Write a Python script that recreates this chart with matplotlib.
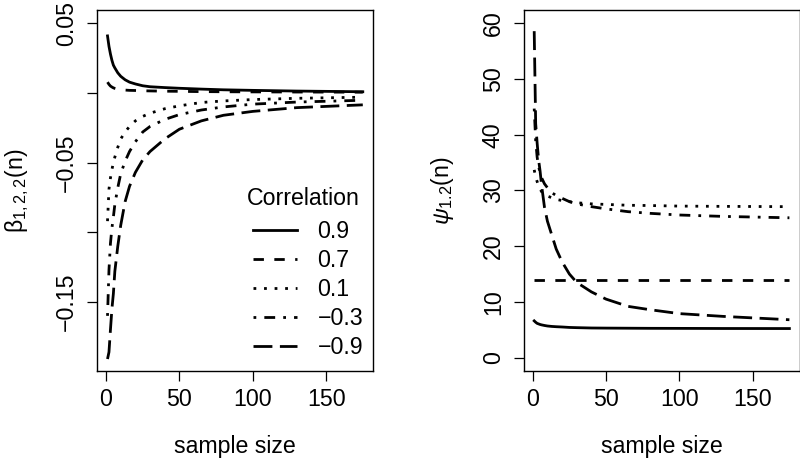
import matplotlib
matplotlib.use("Agg")
import matplotlib.pyplot as plt

plt.rcParams["font.family"] = ["Liberation Sans", "DejaVu Sans"]
plt.rcParams["mathtext.fontset"] = "custom"
plt.rcParams["mathtext.rm"] = "Liberation Sans"
plt.rcParams["mathtext.it"] = "Liberation Sans:italic"
plt.rcParams["mathtext.bf"] = "Liberation Sans:bold"
plt.rcParams["lines.scale_dashes"] = False

n = [1, 2, 3, 4, 5, 6, 8, 10, 13, 16, 20, 25, 30, 40, 50, 65, 80, 100, 130, 175]

corr_labels = ["0.9", "0.7", "0.1", "\u22120.3", "\u22120.9"]

# left panel: beta_{1,2,2}(n)
beta_09 = [0.041, 0.0335, 0.028, 0.0235, 0.020, 0.018, 0.0145, 0.012, 0.0095, 0.0078,
           0.0065, 0.0052, 0.0045, 0.0039, 0.0034, 0.0028, 0.0023, 0.0019, 0.0014, 0.0009]
beta_07 = [0.0078, 0.0062, 0.0050, 0.0043, 0.0037, 0.0033, 0.0027, 0.0024, 0.0021, 0.0019,
           0.0018, 0.0016, 0.0015, 0.0013, 0.0012, 0.0010, 0.0009, 0.0008, 0.0007, 0.0006]
beta_01 = [-0.092, -0.069, -0.061, -0.055, -0.050, -0.046, -0.039, -0.033, -0.028, -0.024,
           -0.020, -0.0168, -0.0145, -0.0113, -0.0092, -0.0068, -0.0057, -0.0047, -0.0038, -0.003]
beta_m03 = [-0.160, -0.127, -0.108, -0.097, -0.089, -0.080, -0.068, -0.058, -0.049, -0.042,
            -0.035, -0.028, -0.024, -0.019, -0.0155, -0.0122, -0.0100, -0.0080, -0.0065, -0.0052]
beta_m09 = [-0.191, -0.186, -0.170, -0.155, -0.144, -0.128, -0.110, -0.095, -0.078, -0.067,
            -0.057, -0.048, -0.042, -0.033, -0.026, -0.020, -0.016, -0.0132, -0.0105, -0.0085]

# right panel: psi_{1.2}(n)
psi_09 = [6.6, 6.35, 6.15, 6.05, 5.95, 5.88, 5.77, 5.68, 5.6, 5.55,
          5.5, 5.42, 5.38, 5.32, 5.3, 5.28, 5.26, 5.25, 5.23, 5.22]
psi_07 = [13.85] * len(n)
psi_01 = [33.7, 32.4, 31.6, 30.9, 30.3, 29.8, 29.3, 29.0, 28.7, 28.4,
          28.2, 28.0, 27.8, 27.6, 27.5, 27.35, 27.3, 27.2, 27.15, 27.1]
psi_m03 = [44.7, 39.0, 36.0, 34.3, 33.2, 32.3, 31.2, 30.5, 29.6, 29.1,
           28.6, 28.0, 27.6, 27.1, 26.7, 26.2, 25.9, 25.6, 25.35, 25.1]
psi_m09 = [58.6, 42.0, 38.5, 35.5, 33.5, 31.0, 27.0, 24.5, 22.0, 19.5,
           17.2, 15.0, 13.5, 11.8, 10.5, 9.2, 8.6, 7.9, 7.4, 6.8]

# R-like line types (points)
styles = [
    dict(linestyle="-"),
    dict(linestyle=(0, (7.5, 7.5))),
    dict(linestyle=(0, (2.0, 5.6))),
    dict(linestyle=(0, (2.0, 5.8, 7.8, 5.8))),
    dict(linestyle=(0, (13.6, 5.4))),
]

FS = 16.7
LW = 2.0

fig = plt.figure(figsize=(8, 4.58), dpi=100)
ax1 = fig.add_axes([97.3 / 800, 87 / 458, 275.7 / 800, 361 / 458])
ax2 = fig.add_axes([524 / 800, 87 / 458, 275.6 / 800, 361 / 458])

for ys, st, lab in zip([beta_09, beta_07, beta_01, beta_m03, beta_m09], styles, corr_labels):
    ax1.plot(n, ys, color="black", lw=LW, dash_capstyle="butt", label=lab, **st)
for ys, st in zip([psi_09, psi_07, psi_01, psi_m03, psi_m09], styles):
    ax2.plot(n, ys, color="black", lw=LW, dash_capstyle="butt", **st)

ax1.set_xlim(-5.96, 181.96)
ax1.set_ylim(-0.1996, 0.0596)
ax1.set_yticks([-0.15, -0.10, -0.05, 0.0, 0.05])
ax1.set_yticklabels(["\u22120.15", "", "\u22120.05", "", "0.05"])

ax2.set_xlim(-5.96, 181.96)
ax2.set_ylim(-2.4, 62.4)
ax2.set_yticks([0, 10, 20, 30, 40, 50, 60])

for ax in (ax1, ax2):
    ax.set_xticks([0, 50, 100, 150])
    ax.tick_params(direction="out", length=7.2, width=0.9, labelsize=FS)
    ax.tick_params(axis="x", pad=5.2)
    ax.tick_params(axis="y", pad=6.5, labelrotation=90)
    for t in ax.get_yticklabels():
        t.set_va("center")
    for sp in ax.spines.values():
        sp.set_linewidth(1.0)
    ax.set_xlabel("sample size", fontsize=FS, labelpad=17)

ax1.set_ylabel(r"$\mathregular{\beta_{1,2,2}(n)}$", fontsize=FS)
ax1.yaxis.set_label_coords(-0.24, 0.5)
ax2.set_ylabel(r"$\psi_{\mathregular{1.2}}\mathregular{(n)}$", fontsize=FS)
ax2.yaxis.set_label_coords(-0.245, 0.5)

ax1.legend(loc="upper left", bbox_to_anchor=(0.566, 0.419), frameon=False,
           fontsize=FS, handlelength=1.87, handletextpad=0.89, labelspacing=0.26,
           borderpad=0, borderaxespad=0)
ax1.text(0.747, 0.478, "Correlation", transform=ax1.transAxes,
         ha="center", va="center", fontsize=FS)

fig.savefig("out.png", dpi=100)
